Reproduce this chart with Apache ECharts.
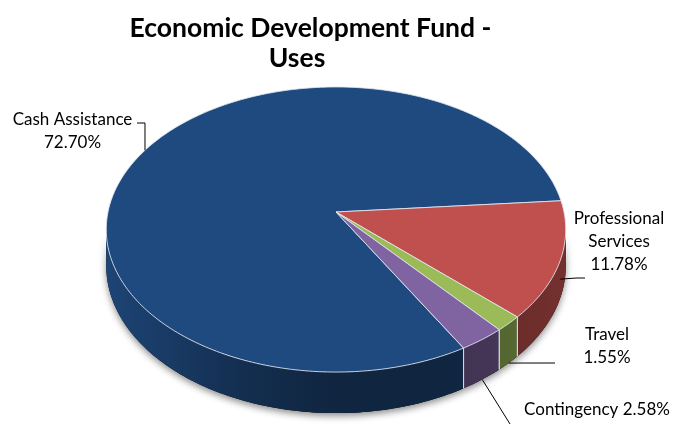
<!DOCTYPE html>
<html>
<head>
<meta charset="utf-8">
<script src="https://cdn.jsdelivr.net/npm/echarts@6/dist/echarts.min.js"></script>
<style>
  html, body { margin: 0; padding: 0; background: #fff; }
  #chart { width: 679px; height: 425px; }
</style>
</head>
<body>
<div id="chart"></div>
<script>
// ---- data ----
const categories = ['Cash Assistance', 'Professional Services', 'Travel', 'Contingency'];
const shares = [72.70, 11.78, 1.55, 2.58];
const labelNames = ['Cash Assistance', 'Professional\nServices', 'Travel', 'Contingency'];
const titleLines = ['Economic Development Fund -', 'Uses'];

// ---- styling ----
const topColors = ['#1F4A7F', '#C0504D', '#9BBB59', '#8064A2'];
const FONT = 'Lato, "Open Sans", sans-serif';

// Tilted disc seen in slight perspective: k controls how much larger the near edge looks.
const PIE = { cx: 336, cy: 212, rx: 228, ry: 140.4, k: 0.1228, depth: 36, startAngle: 60 };

// Label boxes and leader-line elbows; the line starts on the slice itself.
// drop: where on the side wall the leader attaches (0 = top rim, 1 = bottom rim).
// null in an elbow means "use the anchor's x".
const labelLayout = [
  { drop: 0,   elbow: [[null, 123], [137, 123]], x: 72.5, y: 131.5, sep: '\n' },
  { drop: 0.5, elbow: [[577, 278], [585, 278]], x: 619,  y: 242,   sep: '\n' },
  { drop: 1,   elbow: [[555, 363]],             x: 607,  y: 346.5, sep: '\n' },
  { drop: 1,   elbow: [[510, 424]],             x: 597,  y: 410,   sep: ' ' }
];

function project(deg, drop) {
  const a = deg * Math.PI / 180;
  const u = Math.cos(a), v = Math.sin(a);
  const s = 1 / (1 - PIE.k * v);
  return [PIE.cx + PIE.rx * u * s, PIE.cy + (PIE.ry * v + drop) * s];
}

function arc(a0, a1, drop) {
  const pts = [];
  const n = Math.max(2, Math.ceil(Math.abs(a1 - a0)));
  for (let j = 0; j <= n; j++) pts.push(project(a0 + (a1 - a0) * j / n, drop));
  return pts;
}

function shade(hex, f) {
  const n = parseInt(hex.slice(1), 16);
  const r = (n >> 16) & 255, g = (n >> 8) & 255, b = n & 255;
  return 'rgb(' + Math.round(r * f) + ',' + Math.round(g * f) + ',' + Math.round(b * f) + ')';
}

// slice angles (degrees, clockwise from 3 o'clock)
const total = shares.reduce((a, b) => a + b, 0);
const bounds = [];
(function () {
  let acc = PIE.startAngle;
  shares.forEach(v => {
    const span = v / total * 360;
    bounds.push([acc, acc + span]);
    acc += span;
  });
})();

// the outer wall is visible between the two silhouette points
const vis0 = Math.asin(PIE.k) * 180 / Math.PI;
const vis1 = 180 - vis0;

function wallGradient(color) {
  const stops = [[0, 0.92], [0.12, 0.8], [0.3, 0.62], [0.5, 0.5], [0.75, 0.5], [1, 0.6]];
  return {
    type: 'linear', global: true,
    x: PIE.cx - PIE.rx, y: 0, x2: PIE.cx + PIE.rx, y2: 0,
    colorStops: stops.map(s => ({ offset: s[0], color: shade(color, s[1]) }))
  };
}

function renderSlice(params, api) {
  const i = params.dataIndex;
  const a0 = bounds[i][0], a1 = bounds[i][1];
  const color = topColors[i];
  const children = [];

  // side wall
  [0, 360, -360].forEach(off => {
    const lo = Math.max(a0, vis0 + off), hi = Math.min(a1, vis1 + off);
    if (hi <= lo) return;
    const pts = arc(lo, hi, 0).concat(arc(hi, lo, PIE.depth));
    children.push({
      type: 'polygon', z2: 0, shape: { points: pts },
      style: { fill: '#000', shadowBlur: 7, shadowColor: 'rgba(0,0,0,0.45)', shadowOffsetY: 3 }
    });
    children.push({
      type: 'polygon', z2: 1, shape: { points: pts },
      style: { fill: wallGradient(color), stroke: null }
    });
    // light seam where the slice begins / ends on the wall
    [lo, hi].forEach(a => {
      if (a === a0 || a === a1) {
        const p = project(a, 0), q = project(a, PIE.depth);
        children.push({
          type: 'line', z2: 2, shape: { x1: p[0], y1: p[1], x2: q[0], y2: q[1] },
          style: { stroke: 'rgba(215,222,235,0.85)', lineWidth: 1 }
        });
      }
    });
  });

  // top face
  const topPts = [[PIE.cx, PIE.cy]].concat(arc(a0, a1, 0));
  children.push({
    type: 'polygon', z2: 3, shape: { points: topPts },
    style: { fill: color, stroke: 'rgba(225,230,240,0.85)', lineWidth: 1, lineJoin: 'round' }
  });

  // label + leader line
  const L = labelLayout[i];
  const mid = (a0 + a1) / 2;
  const anchor = project(mid, PIE.depth * L.drop);
  const linePts = [anchor].concat(L.elbow.map(p => [p[0] == null ? anchor[0] : p[0], p[1]]));
  children.push({
    type: 'polyline', z2: 5, shape: { points: linePts },
    style: { stroke: '#000', lineWidth: 1, fill: null }
  });
  children.push({
    type: 'text', z2: 5,
    style: {
      text: labelNames[i] + L.sep + shares[i].toFixed(2) + '%',
      x: L.x, y: L.y, align: 'center', verticalAlign: 'middle',
      font: '17px ' + FONT, lineHeight: 23, fill: '#000'
    }
  });

  return { type: 'group', children: children };
}

const chart = echarts.init(document.getElementById('chart'), null, { renderer: 'canvas' });
chart.setOption({
  animation: false,
  backgroundColor: '#fff',
  graphic: [
    { type: 'text', x: 310.5, y: 28, style: { text: titleLines[0], align: 'center', verticalAlign: 'middle', font: 'bold 26.5px ' + FONT, fill: '#000' } },
    { type: 'text', x: 297, y: 58, style: { text: titleLines[1], align: 'center', verticalAlign: 'middle', font: 'bold 26.5px ' + FONT, fill: '#000' } }
  ],
  series: [{
    type: 'custom',
    coordinateSystem: 'none',
    silent: true,
    renderItem: renderSlice,
    data: shares.map((v, i) => ({ name: categories[i], value: [i, v] }))
  }]
});
</script>
</body>
</html>
